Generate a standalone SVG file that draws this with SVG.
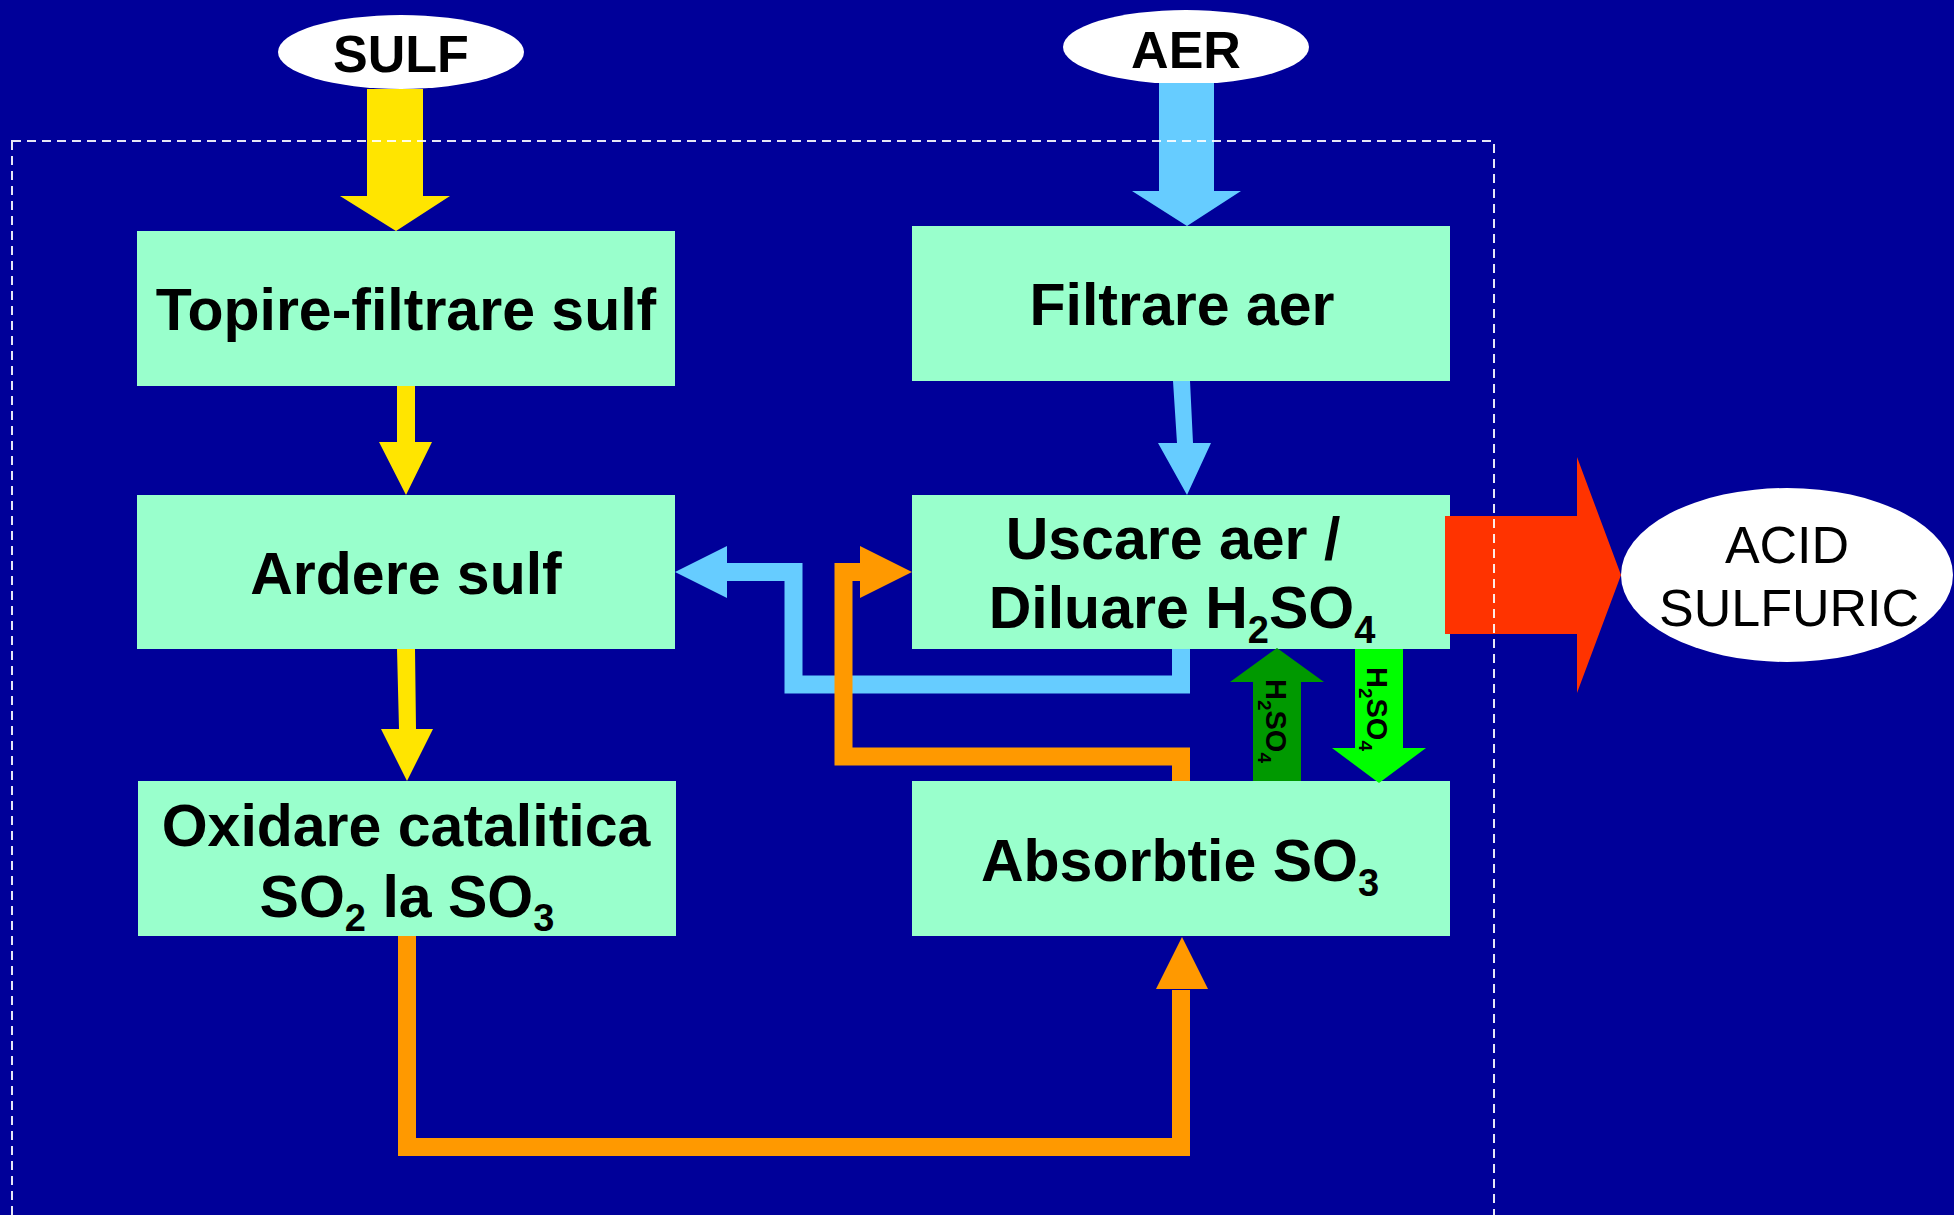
<svg xmlns="http://www.w3.org/2000/svg" width="1954" height="1215" viewBox="0 0 1954 1215">
<style>
.bg{fill:#000099}
.box{fill:#99ffcc}
.ell{fill:#ffffff}
.t{font-family:"Liberation Sans",Arial,sans-serif;font-weight:bold;font-size:59px;fill:#000000;text-anchor:middle}
.te{font-family:"Liberation Sans",Arial,sans-serif;font-weight:bold;font-size:52px;fill:#000000;text-anchor:middle}
.tr{font-family:"Liberation Sans",Arial,sans-serif;font-weight:normal;font-size:52px;fill:#000000;text-anchor:middle}
.ts{font-family:"Liberation Sans",Arial,sans-serif;font-weight:bold;font-size:29px;fill:#000000}
.sub{font-size:38px}
.subs{font-size:19px}
.yel{fill:#ffe500}
.lb{fill:#66ccff}
.or{fill:#ff9900}
.lbl{fill:none;stroke:#66ccff;stroke-width:18;stroke-linejoin:miter}
.orl{fill:none;stroke:#ff9900;stroke-width:18;stroke-linejoin:miter}
.dash{fill:none;stroke:#ffffff;stroke-width:2;stroke-dasharray:9 6;stroke-opacity:0.9}
</style>
<rect class="bg" x="0" y="0" width="1954" height="1215"/>

<g id="sulf">
<ellipse class="ell" cx="401" cy="52" rx="123" ry="37"/>
<text class="te" x="401" y="72">SULF</text>
</g>
<g id="aer">
<ellipse class="ell" cx="1186" cy="47" rx="123" ry="37"/>
<text class="te" x="1186" y="68">AER</text>
</g>

<g id="topire">
<rect class="box" x="137" y="231" width="538" height="155"/>
<text class="t" x="406" y="330">Topire-filtrare sulf</text>
</g>
<g id="ardere">
<rect class="box" x="137" y="495" width="538" height="154"/>
<text class="t" x="406" y="594">Ardere sulf</text>
</g>
<g id="oxidare">
<rect class="box" x="138" y="781" width="538" height="155"/>
<text class="t" x="406" y="846">Oxidare catalitica</text>
<text class="t" x="407" y="917">SO<tspan class="sub" dy="14">2</tspan><tspan dy="-14"> la SO</tspan><tspan class="sub" dy="14">3</tspan></text>
</g>
<g id="filtrare">
<rect class="box" x="912" y="226" width="538" height="155"/>
<text class="t" x="1182" y="325">Filtrare aer</text>
</g>
<g id="uscare">
<rect class="box" x="912" y="495" width="538" height="154"/>
<text class="t" x="1173" y="559">Uscare aer /</text>
<text class="t" x="1182" y="628">Diluare H<tspan class="sub" dy="15">2</tspan><tspan dy="-15">SO</tspan><tspan class="sub" dy="15">4</tspan></text>
</g>
<g id="absorbtie">
<rect class="box" x="912" y="781" width="538" height="155"/>
<text class="t" x="1180" y="881">Absorbtie SO<tspan class="sub" dy="15">3</tspan></text>
</g>
<g id="acid">
<ellipse class="ell" cx="1787" cy="575" rx="166" ry="87"/>
<text class="tr" x="1787" y="563">ACID</text>
<text class="tr" x="1789" y="626">SULFURIC</text>
</g>

<g id="connectors">
<polygon class="yel" points="367,89 423,89 423,196 450,196 396,231 340,196 367,196"/>
<polygon class="yel" points="397,386 415,386 415,442 432,442 406,495 379,442 397,442"/>
<polygon class="yel" points="397,649 415,649 416,729 433,729 407,781 381,729 399,729"/>
<polygon class="lb" points="1159,83 1214,83 1214,191 1241,191 1187,226 1132,191 1159,191"/>
<polygon class="lb" points="1173,381 1190,381 1193,443 1211,443 1187,495 1158,443 1177,443"/>
<path class="lbl" d="M1181,649 V684.5 H793.5 V572 H726"/>
<polygon class="lb" points="727,546 675,572 727,598"/>
<path class="orl" d="M1181,781 V756.5 H843.5 V572 H861"/>
<polygon class="or" points="860,546 912,572 860,598"/>
<path class="orl" d="M407,936 V1147 H1181 V990"/>
<polygon class="or" points="1156,989 1182,937 1208,989"/>
<polygon fill="#009900" points="1253,781 1253,682 1230,682 1277,648 1324,682 1301,682 1301,781"/>
<polygon fill="#00ff00" points="1355,649 1403,649 1403,748 1426,748 1379,783 1332,748 1355,748"/>
<polygon fill="#ff3300" points="1445,516 1577,516 1577,457 1621,575 1577,693 1577,634 1445,634"/>
<text class="ts" transform="translate(1266,679) rotate(90)">H<tspan class="subs" dy="8">2</tspan><tspan dy="-8">SO</tspan><tspan class="subs" dy="8">4</tspan></text>
<text class="ts" transform="translate(1367,667) rotate(90)">H<tspan class="subs" dy="8">2</tspan><tspan dy="-8">SO</tspan><tspan class="subs" dy="8">4</tspan></text>
</g>

<rect class="dash" x="12" y="141" width="1482" height="1200"/>
</svg>
